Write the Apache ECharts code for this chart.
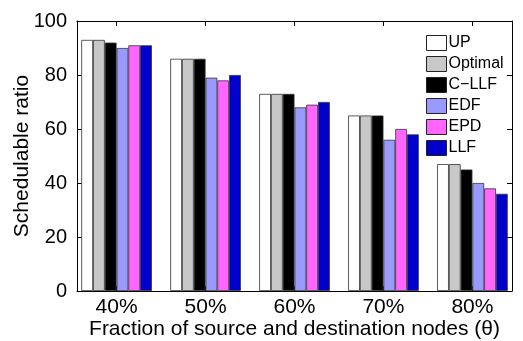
<!DOCTYPE html>
<html>
<head>
<meta charset="utf-8">
<script src="https://cdn.jsdelivr.net/npm/echarts@6/dist/echarts.min.js"></script>
<style>
  html, body { margin: 0; padding: 0; background: #fff; }
  #chart { width: 523px; height: 341px; }
</style>
</head>
<body>
<div id="chart"></div>
<script>
// Fraction of source/destination nodes on the x axis
const categories = ['40%', '50%', '60%', '70%', '80%'];

// Schedulable ratio (%) for each scheduling approach
const seriesNames = ['UP', 'Optimal', 'C\u2212LLF', 'EDF', 'EPD', 'LLF'];
const upValues      = [93, 86, 73, 65, 47];
const optimalValues = [93, 86, 73, 65, 47];
const cllfValues    = [92, 86, 73, 65, 45];
const edfValues     = [90, 79, 68, 56, 40];
const epdValues     = [91, 78, 69, 60, 38];
const llfValues     = [91, 80, 70, 58, 36];

const yTicks = [0, 20, 40, 60, 80, 100];

const colors = ['#ffffff', '#c8c8c8', '#000000', '#9999ff', '#ff66ff', '#0000cc'];
const allValues = [upValues, optimalValues, cllfValues, edfValues, epdValues, llfValues];

const FONT = 'Liberation Sans, Arial, Helvetica, sans-serif';

// groups sit at positions 1..N on a numeric x axis, with a little slack at each end
const groupPos = categories.map((c, i) => i + 1);
const X_MIN = 0.555;
const X_MAX = categories.length + 0.445;

const chart = echarts.init(document.getElementById('chart'), null, { renderer: 'canvas' });

const series = seriesNames.map((name, i) => ({
  name: name,
  type: 'bar',
  data: allValues[i].map((v, k) => [groupPos[k], v]),
  barGap: '0%',
  barCategoryGap: '20.6%',
  itemStyle: { color: colors[i], borderColor: '#333', borderWidth: 0.8 },
  emphasis: { disabled: true },
  animation: false
}));

chart.setOption({
  animation: false,
  grid: { left: 77, right: 11, top: 21, bottom: 50, containLabel: false, outerBoundsMode: 'none' },
  legend: {
    orient: 'vertical',
    left: 426,
    top: 35,
    padding: 0,
    itemWidth: 20,
    itemHeight: 15,
    itemGap: 5,
    icon: 'rect',
    data: seriesNames,
    textStyle: { fontFamily: FONT, fontSize: 16, lineHeight: 15, color: '#000', padding: [0, 0, 0, -3] },
    itemStyle: { borderColor: '#222', borderWidth: 1 }
  },
  xAxis: [
    {
      type: 'value',
      min: X_MIN,
      max: X_MAX,
      position: 'bottom',
      name: 'Fraction of source and destination nodes (\u03b8)',
      nameLocation: 'middle',
      nameGap: 28,
      nameMoveOverlap: false,
      nameTextStyle: { fontFamily: FONT, fontSize: 21, color: '#000' },
      axisLine: { show: true, onZero: false, lineStyle: { color: '#000', width: 1 } },
      axisTick: { show: true, inside: true, length: 5, customValues: groupPos, lineStyle: { color: '#000' } },
      axisLabel: {
        fontFamily: FONT, fontSize: 21, color: '#000', margin: 6,
        customValues: groupPos,
        formatter: v => categories[Math.round(v) - 1]
      },
      splitLine: { show: false }
    },
    {
      type: 'value',
      min: X_MIN,
      max: X_MAX,
      position: 'top',
      axisLine: { show: true, onZero: false, lineStyle: { color: '#000', width: 1 } },
      axisTick: { show: true, inside: true, length: 5, customValues: groupPos, lineStyle: { color: '#000' } },
      axisLabel: { show: false },
      splitLine: { show: false }
    }
  ],
  yAxis: [
    {
      type: 'value',
      min: 0,
      max: 100,
      interval: 20,
      position: 'left',
      name: 'Schedulable ratio',
      nameLocation: 'middle',
      nameGap: 44,
      nameMoveOverlap: false,
      nameTextStyle: { fontFamily: FONT, fontSize: 21, color: '#000' },
      axisLine: { show: true, onZero: false, lineStyle: { color: '#000', width: 1 } },
      axisTick: { show: true, inside: true, length: 5, lineStyle: { color: '#000' } },
      axisLabel: {
        fontFamily: FONT, fontSize: 20, color: '#000', margin: 10,
        formatter: v => (yTicks.indexOf(v) >= 0 ? String(v) : '')
      },
      splitLine: { show: false }
    },
    {
      type: 'value',
      min: 0,
      max: 100,
      interval: 20,
      position: 'right',
      axisLine: { show: true, onZero: false, lineStyle: { color: '#000', width: 1 } },
      axisTick: { show: true, inside: true, length: 5, lineStyle: { color: '#000' } },
      axisLabel: { show: false },
      splitLine: { show: false }
    }
  ],
  series: series
});
</script>
</body>
</html>
